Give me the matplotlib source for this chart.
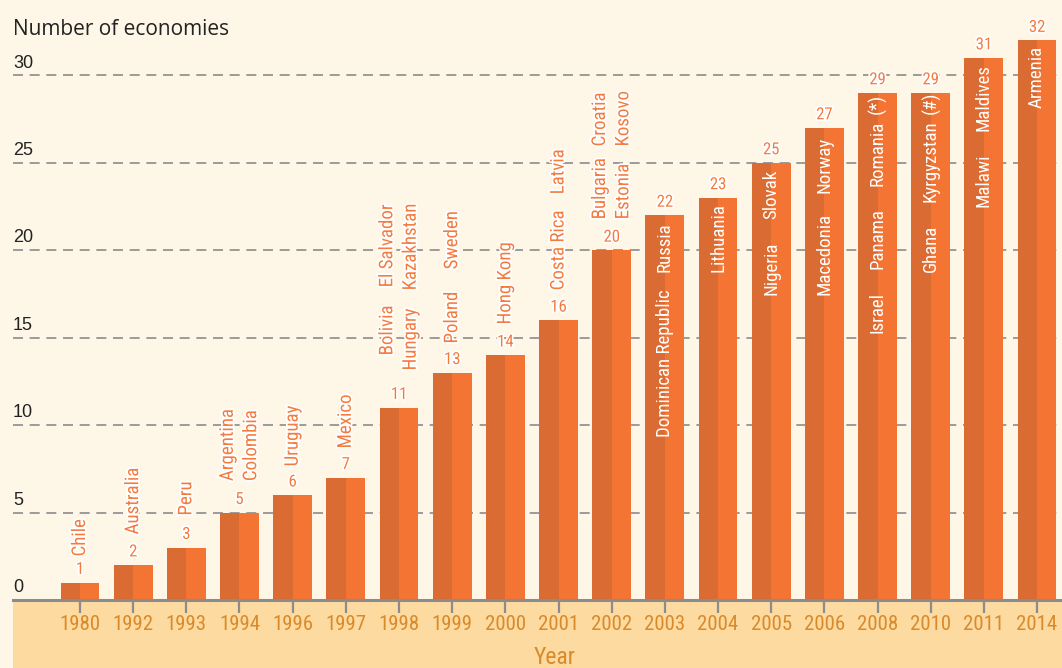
import matplotlib
matplotlib.use("Agg")
import matplotlib.pyplot as plt
import matplotlib.patheffects as pe
from matplotlib.patches import Rectangle
import numpy as np

# data
years = ['1980', '1992', '1993', '1994', '1996', '1997', '1998', '1999', '2000', '2001',
         '2002', '2003', '2004', '2005', '2006', '2008', '2010', '2011', '2014']
counts = [1, 2, 3, 5, 6, 7, 11, 13, 14, 16, 20, 22, 23, 25, 27, 29, 29, 31, 32]
countries = [
    ["Chile"], ["Australia"], ["Peru"], ["Argentina", "Colombia"], ["Uruguay"], ["Mexico"],
    ["Bolivia", "El Salvador", "Hungary", "Kazakhstan"], ["Poland", "Sweden"], ["Hong Kong"],
    ["Costa Rica", "Latvia"], ["Bulgaria", "Croatia", "Estonia", "Kosovo"],
    ["Dominican Republic", "Russia"], ["Lithuania"], ["Nigeria", "Slovak"],
    ["Macedonia", "Norway"], ["Israel", "Panama", "Romania", "(*)"],
    ["Ghana", "Kyrgyzstan", "(#)"], ["Malawi", "Maldives"], ["Armenia"],
]

# label layout: (column, start height) for each name above
label_pos = [
    [(0, 2.49)], [(0, 3.75)], [(0, 4.83)], [(-1, 6.8), (1, 6.8)], [(0, 7.64)], [(0, 8.67)],
    [(-1, 13.99), (-1, 17.88), (1, 13.13), (1, 17.71)], [(0, 14.67), (0, 18.91)], [(0, 15.76)],
    [(0, 17.71), (0, 23.2)], [(-1, 21.77), (-1, 25.94), (1, 21.77), (1, 25.94)],
    [(0, 9.35), (0, 18.74)], [(0, 18.74)], [(0, 17.42), (0, 21.77)],
    [(0, 17.42), (0, 23.26)], [(0, 15.25), (0, 18.91), (0, 23.66), (0, 27.8)],
    [(0, 18.74), (0, 22.74), (0, 27.8)], [(0, 22.45), (0, 26.8)], [(0, 28.12)],
]

BG = '#FEF7E7'
BAND = '#FDDA9F'
DARK = '#DA6B33'
LIGHT = '#F37433'
ORANGE = '#F47B3F'
YEARCOL = '#D98A2B'
GRAY = '#8C8C8C'
NARROW = ['Roboto Condensed', 'Liberation Sans Narrow', 'Arial Narrow', 'Roboto', 'DejaVu Sans']

W, H = 1062, 668
fig = plt.figure(figsize=(W / 100, H / 100), dpi=100, facecolor=BG)
left = 13 / W
bottom = 68 / H
ax = fig.add_axes([left, bottom, 1 - left, (600 - 16) / H])
ax.patch.set_visible(False)

fig.patches.append(Rectangle((left, 0), 1 - left, bottom, transform=fig.transFigure,
                             facecolor=BAND, edgecolor='none', zorder=-1))

x = np.arange(len(years))
bw = 0.733
ax.bar(x - bw / 4, counts, width=bw / 2, color=DARK, zorder=3)
ax.bar(x + bw / 4, counts, width=bw / 2, color=LIGHT, zorder=3)

ax.set_xlim(-1.26, len(years) - 0.53)
ax.set_ylim(0, 33.4)

for v in range(5, 31, 5):
    ax.axhline(v, color=GRAY, lw=1.2, dashes=(6, 4), zorder=1)
for v in range(0, 31, 5):
    ax.text(0, v + 0.45, str(v), transform=ax.get_yaxis_transform(), ha='left',
            va='baseline', fontsize=13, family=['Liberation Sans', 'DejaVu Sans'], color='#222222')

halo = [pe.withStroke(linewidth=2.5, foreground='white')]
for i, c in enumerate(counts):
    ax.text(i, c + 0.75, str(c), ha='center', va='center', fontsize=12, family=NARROW,
            color=ORANGE, path_effects=halo, zorder=5)
    for name, (col, y0) in zip(countries[i], label_pos[i]):
        inside = y0 < c
        ax.text(i + col * 0.22, y0, name, rotation=90, ha='center', va='bottom',
                fontsize=13.6, family=NARROW, color='white' if inside else ORANGE,
                path_effects=None if inside else halo, zorder=5)

ax.set_xticks(x)
ax.set_xticklabels(years, fontsize=15, family=NARROW, color=YEARCOL)
ax.set_yticks([])
ax.tick_params(axis='x', length=9, width=1.6, color=GRAY, pad=2)
for s in ['top', 'right', 'left']:
    ax.spines[s].set_visible(False)
ax.spines['bottom'].set_color(GRAY)
ax.spines['bottom'].set_linewidth(2.2)
ax.spines['bottom'].set_zorder(4)

fig.text(left, 1 - 35 / H, 'Number of economies', ha='left', va='baseline',
         fontsize=15, family=['Open Sans', 'DejaVu Sans'], color='#222222')
fig.text(555 / W, 1 - 658 / H, 'Year', ha='center', va='center', fontsize=17,
         family=NARROW, color=YEARCOL)

fig.savefig('out.png', dpi=100, facecolor=BG)
